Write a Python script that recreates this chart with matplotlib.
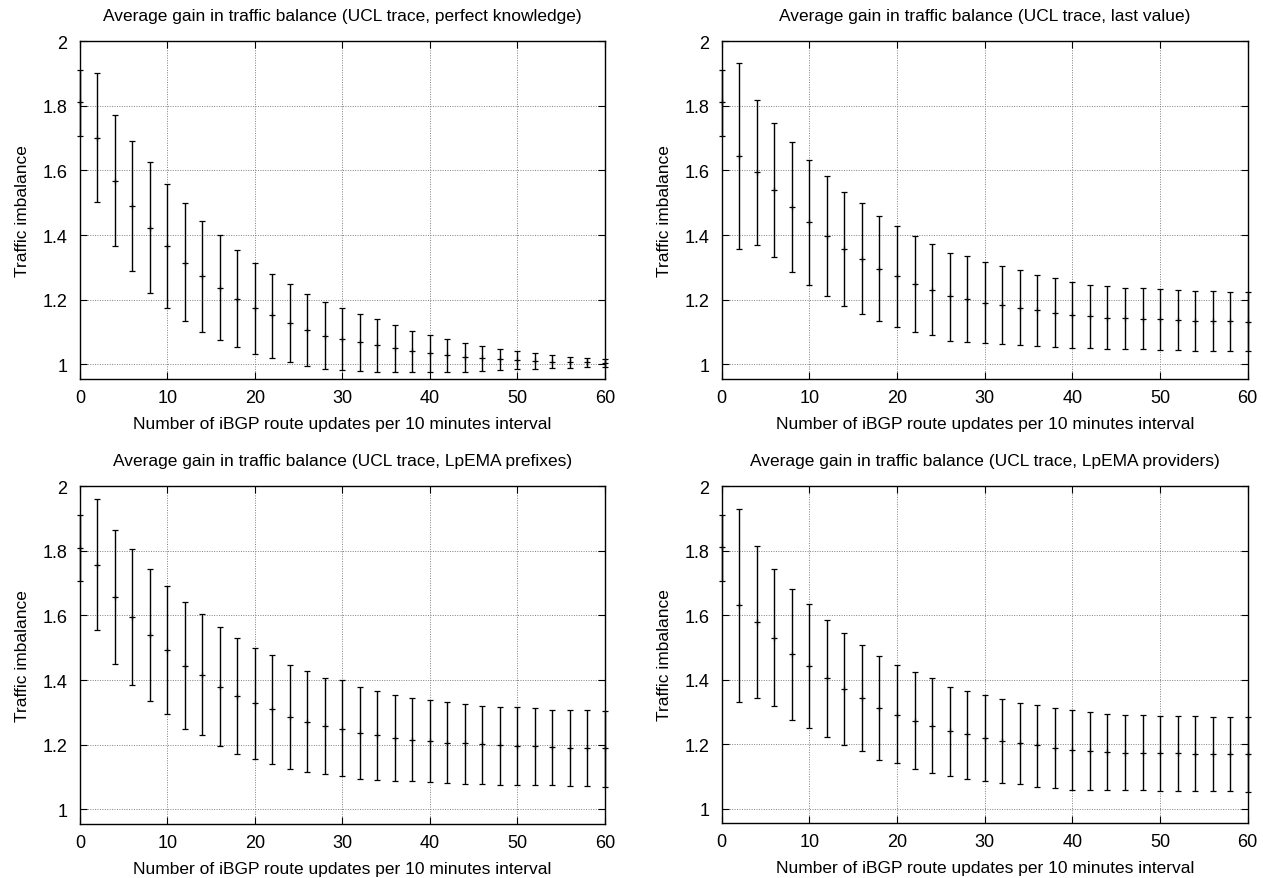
import matplotlib
matplotlib.use("Agg")
import matplotlib.pyplot as plt
from matplotlib.ticker import FormatStrFormatter, MultipleLocator

plt.rcParams['font.family'] = ['Liberation Sans', 'DejaVu Sans']

# x positions: a point at 0 (mostly hidden on the axis) then every 2 updates
updates = [0] + list(range(2, 61, 2))

# --- perfect knowledge ---
pk_mean = [1.81, 1.699, 1.568, 1.490, 1.423, 1.367, 1.315, 1.273, 1.237, 1.203, 1.175,
           1.152, 1.128, 1.108, 1.089, 1.080, 1.068, 1.059, 1.050, 1.041, 1.034,
           1.028, 1.023, 1.019, 1.016, 1.013, 1.011, 1.009, 1.006, 1.006, 1.004]
pk_low = [1.706, 1.502, 1.365, 1.290, 1.221, 1.175, 1.133, 1.100, 1.075, 1.053, 1.033,
          1.020, 1.006, 0.995, 0.986, 0.983, 0.980, 0.978, 0.976, 0.976, 0.976,
          0.978, 0.978, 0.980, 0.983, 0.986, 0.987, 0.990, 0.990, 0.993, 0.993]
pk_high = [1.911, 1.900, 1.771, 1.690, 1.625, 1.559, 1.498, 1.445, 1.399, 1.355, 1.313,
           1.281, 1.248, 1.219, 1.193, 1.175, 1.156, 1.139, 1.122, 1.104, 1.091,
           1.078, 1.067, 1.056, 1.049, 1.041, 1.035, 1.028, 1.024, 1.021, 1.017]

# --- last value ---
lv_mean = [1.81, 1.645, 1.594, 1.539, 1.487, 1.441, 1.398, 1.358, 1.327, 1.296, 1.272,
           1.249, 1.231, 1.211, 1.203, 1.191, 1.184, 1.176, 1.168, 1.159, 1.153,
           1.149, 1.145, 1.143, 1.141, 1.139, 1.138, 1.135, 1.134, 1.133, 1.131]
lv_low = [1.706, 1.358, 1.370, 1.333, 1.287, 1.245, 1.213, 1.181, 1.156, 1.134, 1.116,
          1.100, 1.091, 1.072, 1.070, 1.067, 1.062, 1.061, 1.057, 1.054, 1.051,
          1.050, 1.048, 1.047, 1.047, 1.044, 1.044, 1.043, 1.042, 1.042, 1.041]
lv_high = [1.911, 1.933, 1.818, 1.746, 1.687, 1.633, 1.584, 1.534, 1.498, 1.458, 1.428,
           1.398, 1.371, 1.345, 1.336, 1.316, 1.304, 1.291, 1.278, 1.266, 1.254,
           1.247, 1.242, 1.237, 1.236, 1.234, 1.231, 1.228, 1.226, 1.224, 1.223]

# --- LpEMA prefixes ---
pf_mean = [1.81, 1.757, 1.656, 1.595, 1.539, 1.492, 1.445, 1.417, 1.380, 1.351, 1.328,
           1.311, 1.286, 1.270, 1.258, 1.250, 1.237, 1.230, 1.222, 1.216, 1.211,
           1.207, 1.204, 1.201, 1.198, 1.197, 1.196, 1.192, 1.191, 1.190, 1.189]
pf_low = [1.706, 1.554, 1.449, 1.386, 1.335, 1.294, 1.249, 1.229, 1.195, 1.170, 1.157,
          1.142, 1.124, 1.115, 1.110, 1.104, 1.094, 1.091, 1.089, 1.087, 1.084,
          1.083, 1.080, 1.078, 1.075, 1.076, 1.075, 1.075, 1.073, 1.072, 1.071]
pf_high = [1.911, 1.960, 1.865, 1.804, 1.743, 1.691, 1.642, 1.605, 1.564, 1.530, 1.499,
           1.477, 1.447, 1.429, 1.407, 1.400, 1.380, 1.367, 1.353, 1.346, 1.339,
           1.331, 1.327, 1.321, 1.317, 1.317, 1.315, 1.309, 1.309, 1.308, 1.304]

# --- LpEMA providers ---
pv_mean = [1.81, 1.630, 1.579, 1.530, 1.478, 1.442, 1.404, 1.370, 1.342, 1.312, 1.291,
           1.273, 1.256, 1.239, 1.230, 1.219, 1.210, 1.202, 1.196, 1.189, 1.183,
           1.178, 1.176, 1.173, 1.173, 1.171, 1.171, 1.170, 1.169, 1.168, 1.168]
pv_low = [1.706, 1.330, 1.342, 1.318, 1.276, 1.251, 1.223, 1.198, 1.177, 1.150, 1.140,
          1.122, 1.109, 1.100, 1.092, 1.084, 1.079, 1.075, 1.068, 1.063, 1.059,
          1.058, 1.058, 1.056, 1.056, 1.054, 1.054, 1.054, 1.053, 1.053, 1.052]
pv_high = [1.911, 1.929, 1.815, 1.743, 1.680, 1.634, 1.585, 1.543, 1.506, 1.472, 1.444,
           1.424, 1.404, 1.378, 1.366, 1.353, 1.340, 1.328, 1.320, 1.313, 1.307,
           1.299, 1.294, 1.291, 1.290, 1.288, 1.287, 1.286, 1.285, 1.283, 1.283]

titles = [
    "Average gain in traffic balance (UCL trace, perfect knowledge)",
    "Average gain in traffic balance (UCL trace, last value)",
    "Average gain in traffic balance (UCL trace, LpEMA prefixes)",
    "Average gain in traffic balance (UCL trace, LpEMA providers)",
]
series = [
    (pk_mean, pk_low, pk_high),
    (lv_mean, lv_low, lv_high),
    (pf_mean, pf_low, pf_high),
    (pv_mean, pv_low, pv_high),
]

# axes rectangles in figure fractions (left, bottom, width, height)
rects = [
    (0.0633, 0.5677, 0.4157, 0.3845),
    (0.5714, 0.5677, 0.4165, 0.3845),
    (0.0633, 0.0614, 0.4157, 0.3845),
    (0.5714, 0.0625, 0.4165, 0.3834),
]

fig = plt.figure(figsize=(12.63, 8.79), dpi=100)

for rect, title, (mean, low, high) in zip(rects, titles, series):
    ax = fig.add_axes(rect)
    yerr = [[m - l for m, l in zip(mean, low)], [h - m for m, h in zip(mean, high)]]
    ax.errorbar(updates, mean, yerr=yerr, fmt='+', color='black', ms=5, mew=0.9,
                elinewidth=1.0, capsize=2.5, capthick=1.0, clip_on=False, zorder=3)
    ax.set_xlim(0, 60)
    ax.set_ylim(0.955, 2)
    ax.xaxis.set_major_locator(MultipleLocator(10))
    ax.yaxis.set_major_locator(MultipleLocator(0.2))
    ax.yaxis.set_major_formatter(FormatStrFormatter('%g'))
    ax.grid(True, color='#808080', linestyle=(0, (1, 1.5)), linewidth=0.7)
    ax.tick_params(direction='in', top=True, right=True, length=5, width=0.8,
                   labelsize=13)
    ax.tick_params(axis='y', pad=9)
    ax.tick_params(axis='x', pad=7.5)
    for s in ax.spines.values():
        s.set_linewidth(1.0)
    ax.set_title(title, fontsize=12.5, pad=15)
    ax.set_xlabel("Number of iBGP route updates per 10 minutes interval",
                  fontsize=12.5, labelpad=7)
    ax.set_ylabel("Traffic imbalance", fontsize=12.5, labelpad=9)

fig.savefig("out.png", dpi=100)
